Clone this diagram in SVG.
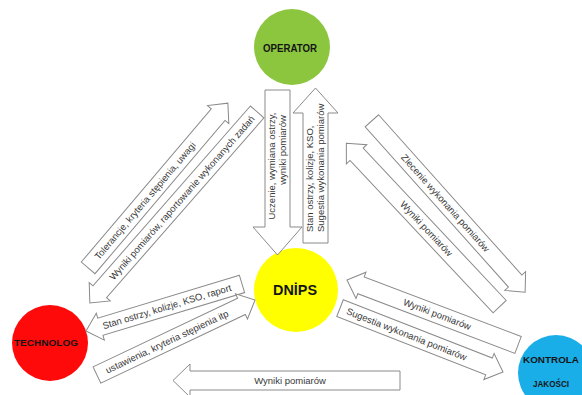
<svg xmlns="http://www.w3.org/2000/svg" width="582" height="395" viewBox="0 0 582 395">
<style>
.ar{fill:#fff;stroke:#8a8a8a;stroke-width:1}
.lb{font-family:"Liberation Sans",Arial,sans-serif;font-size:9.5px;fill:#383838;text-anchor:middle}
.st{text-anchor:start}
.nd{font-family:"Liberation Sans",Arial,sans-serif;font-weight:bold;text-anchor:middle;fill:#151515}
</style>
<rect width="582" height="395" fill="#fff"/>
<g id="node-operator">
<circle cx="292" cy="47" r="38" fill="#8cc63f"/>
<text class="nd" x="290" y="52" font-size="10.5" textLength="54" lengthAdjust="spacingAndGlyphs">OPERATOR</text>
</g>
<g id="node-dnips">
<circle cx="296" cy="290" r="42" fill="#ffff00"/>
<text class="nd" x="295" y="295" font-size="14" textLength="44" lengthAdjust="spacingAndGlyphs">DNİPS</text>
</g>
<g id="node-technolog">
<circle cx="50" cy="343" r="38" fill="#ff0a0a"/>
<text class="nd" x="46" y="346" font-size="8.5" textLength="64" lengthAdjust="spacingAndGlyphs">TECHNOLOG</text>
</g>
<g id="node-kontrola">
<circle cx="556" cy="373" r="38" fill="#19aee8"/>
<text class="nd" x="551" y="363" font-size="8.5" fill="#10223c" textLength="56" lengthAdjust="spacingAndGlyphs">KONTROLA</text>
<text class="nd" x="551" y="387" font-size="8.5" fill="#10223c" textLength="36" lengthAdjust="spacingAndGlyphs">JAKOŚCI</text>
</g>
<g id="connectors">
<g transform="translate(158,185.5) rotate(-49.7)">
<path class="ar" d="M-108,-9 H93 V-14 L108,0 L93,14 V9 H-108 Z"/>
<text class="lb" x="-20" y="3.3">Tolerancje, kryteria stępienia, uwagi</text>
</g>
<g transform="translate(173.5,207.5) rotate(-48.8)">
<path class="ar" d="M127,-9 H-112 V-14 L-127,0 L-112,14 V9 H127 Z"/>
<text class="lb" x="12.8" y="3.3">Wyniki pomiarów, raportowanie wykonanych zadań</text>
</g>
<g transform="translate(448.5,206.5) rotate(48.2)">
<path class="ar" d="M-115,-9 H100 V-14 L115,0 L100,14 V9 H-115 Z"/>
<text class="lb" x="-4.6" y="3.3">Zlecenie wykonania pomiarów</text>
</g>
<g transform="translate(423,225) rotate(46.8)">
<path class="ar" d="M112,-9 H-97 V-14 L-112,0 L-97,14 V9 H112 Z"/>
<text class="lb" x="5" y="3.3">Wyniki pomiarów</text>
</g>
<g transform="translate(432.5,312.5) rotate(20.8)">
<path class="ar" d="M91.5,-9 H-76.5 V-14 L-91.5,0 L-76.5,14 V9 H91.5 Z"/>
<text class="lb" x="5" y="3.3">Wyniki pomiarów</text>
</g>
<g transform="translate(421.5,340) rotate(21.4)">
<path class="ar" d="M-87.5,-9 H72.5 V-14 L87.5,0 L72.5,14 V9 H-87.5 Z"/>
<text class="lb" x="-16" y="3.3">Sugestia wykonania pomiarów</text>
</g>
<g transform="translate(164,307.5) rotate(-16.8)">
<path class="ar" d="M81.5,-9 H-66.5 V-14 L-81.5,0 L-66.5,14 V9 H81.5 Z"/>
<text class="lb" x="3" y="3.3">Stan ostrzy, kolizje, KSO, raport</text>
</g>
<g transform="translate(176,337.5) rotate(-25.4)">
<path class="ar" d="M-87.5,-9 H72.5 V-14 L87.5,0 L72.5,14 V9 H-87.5 Z"/>
<text class="lb" x="-10" y="3.3">ustawienia, kryteria stępienia itp</text>
</g>
<path class="ar" d="M400,371 H190 V364 L173,380.5 L190,397 V390 H400 Z"/>
<text class="lb" x="290" y="384" font-size="10">Wyniki pomiarów</text>
<path class="ar" d="M265,90 H290 V227 H302 L277.5,255 L253,227 H265 Z"/>
<g transform="translate(277.5,166) rotate(-90)">
<text class="lb" x="0" y="-2.1">Uczenie, wymiana ostrzy,</text>
<text class="lb" x="16" y="8.9">wyniki pomiarów</text>
</g>
<path class="ar" d="M303,243 V113 H293 L315.5,88 L338,113 H328 V243 Z"/>
<g transform="translate(315.5,232) rotate(-90)">
<text class="lb st" x="0" y="-2.1">Stan ostrzy, kolizje, KSO,</text>
<text class="lb st" x="0" y="8.9">Sugestia wykonania pomiarów</text>
</g>
</g>
</svg>
